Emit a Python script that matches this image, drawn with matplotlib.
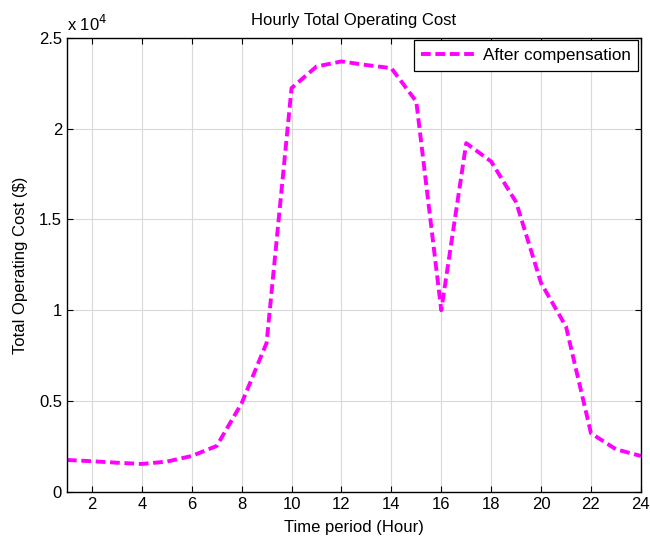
import matplotlib
matplotlib.use("Agg")
import matplotlib.pyplot as plt
from matplotlib.ticker import FuncFormatter

plt.rcParams['font.family'] = ['Liberation Sans', 'DejaVu Sans']

hours = list(range(1, 25))
cost = [1760, 1690, 1610, 1540, 1670, 1980, 2530, 4880, 8200, 22230,
        23420, 23700, 23500, 23330, 21490, 10000, 19200, 18190, 15950, 11500,
        9100, 3230, 2350, 1980]
xticks = list(range(2, 25, 2))
yticks = [0, 5000, 10000, 15000, 20000, 25000]

fig = plt.figure(figsize=(6.5, 5.4), dpi=100)
ax = fig.add_axes([0.103, 0.089, 0.883, 0.841])

ax.plot(hours, cost, color='#ff00ff', lw=2.8, dashes=(2.5, 1.2),
        label='After compensation')

ax.set_xlim(1, 24)
ax.set_ylim(0, 25000)
ax.set_xticks(xticks)
ax.set_yticks(yticks)
ax.yaxis.set_major_formatter(FuncFormatter(lambda v, p: '%g' % (v / 1e4)))
ax.tick_params(direction='in', top=True, right=True, labelsize=12, length=4)
ax.grid(True, color='#d9d9d9', lw=0.8)
for s in ax.spines.values():
    s.set_linewidth(1.0)

ax.text(0.0, 1.008, r'x 10$^4$', transform=ax.transAxes, fontsize=12,
        ha='left', va='bottom')
ax.set_title('Hourly Total Operating Cost', fontsize=12, pad=9)
ax.set_xlabel('Time period (Hour)', fontsize=12, labelpad=6)
ax.set_ylabel('Total Operating Cost (\\$)', fontsize=12, labelpad=8)

leg = ax.legend(loc='upper right', fontsize=12.3, fancybox=False,
                framealpha=1, edgecolor='black', borderaxespad=0.15,
                handlelength=3.2, borderpad=0.45, handletextpad=0.4)
leg.get_frame().set_linewidth(0.9)

fig.savefig('out.png', dpi=100)
